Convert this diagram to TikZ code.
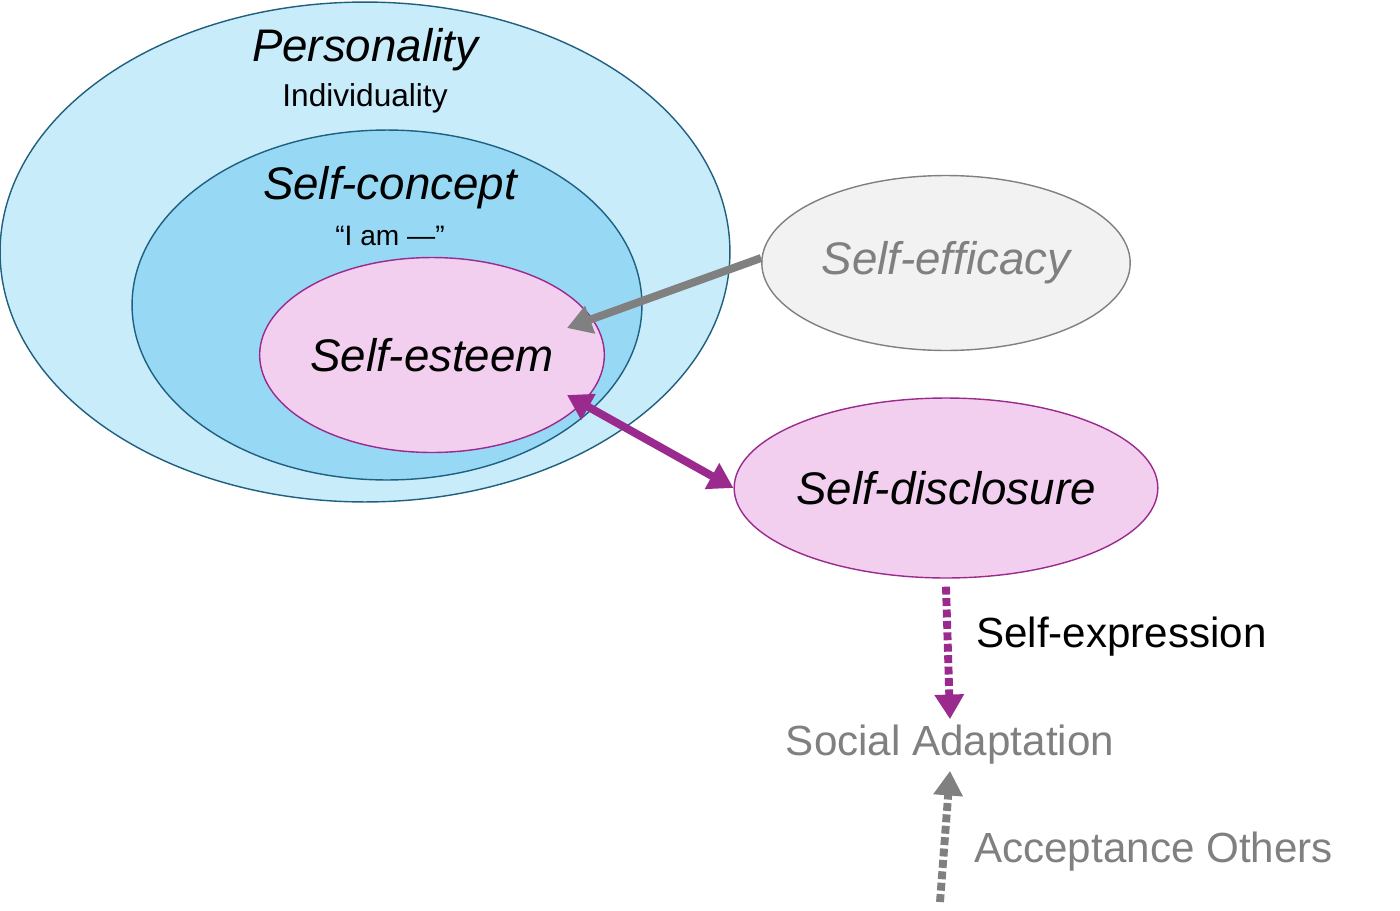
\documentclass[tikz,border=0pt]{standalone}
\usepackage{fontspec}
\setmainfont{Liberation Sans}
\usetikzlibrary{shapes.geometric,arrows.meta,positioning}
\definecolor{outerc}{HTML}{C8ECFA}
\definecolor{innerc}{HTML}{97D9F5}
\definecolor{bluel}{HTML}{1F5F7F}
\definecolor{pinkf}{HTML}{F2CFEE}
\definecolor{pinkl}{HTML}{9B2A8E}
\definecolor{greyf}{HTML}{F2F2F2}
\definecolor{greyl}{HTML}{808080}
\begin{document}
\begin{tikzpicture}
		[x=0.02cm,y=-0.02cm,
		blob/.style ={ellipse, draw=bluel, thick, inner sep=0pt},
		self/.style ={ellipse, draw=pinkl, thick, fill=pinkf, inner sep=0pt, font=\fontsize{26}{30}\selectfont\itshape},
		link/.style ={line width=4.5pt, -{Triangle[length=14pt,width=16pt]}},
		]
		\useasboundingbox (0,0) rectangle (1400,910);

		\node[blob, fill=outerc, minimum width=730\pgflinewidth*0+14.6cm, minimum height=10cm] (P) at (365,252) {};
		\node[blob, fill=innerc, minimum width=10.2cm, minimum height=7cm] (C) at (387,305) {};
		\node[self, minimum width=5.6cm, minimum height=3.9cm] (E) at (432,355) {Self-esteem};
		\node[ellipse, draw=greyl, thick, fill=greyf, text=greyl, font=\fontsize{26}{30}\selectfont\itshape, minimum width=7cm, minimum height=3.5cm] (F) at (946,263) {Self-efficacy};
		\node[self, minimum width=7cm, minimum height=3.6cm] (D) at (946,488) {Self-disclosure};

		\node[font=\fontsize{26}{30}\selectfont\itshape] (Pt) at (365,50) {Personality};
		\node[font=\fontsize{18}{20}\selectfont] (Pi) at (365,98) {Individuality};
		\node[font=\fontsize{26}{30}\selectfont\itshape] (Ct) at (390,188) {Self-concept};
		\node[font=\fontsize{16}{20}\selectfont] (Ci) at (390,236) {“I am ---”};

		\node[text=greyl, font=\fontsize{24}{28}\selectfont] (S) at (950,745) {Social Adaptation};
		\coordinate (A) at (940,902);
		\node[font=\fontsize{24}{28}\selectfont, anchor=west] (X) at (970,637) {Self-expression};
		\node[text=greyl, font=\fontsize{24}{28}\selectfont, anchor=west] (O) at (968,852) {Acceptance Others};

		\draw[link, greyl] (F.west) ++(0,-5) -- (567,328);
		\draw[link, pinkl, {Triangle[length=14pt,width=16pt]}-{Triangle[length=14pt,width=16pt]}] (567,395) -- (D.west);
		\draw[link, pinkl, dotted] (D.south) ++(0,8) -- (S.north);
		\draw[link, greyl, dotted] (A) -- (S.south);
	\end{tikzpicture}
\end{document}
